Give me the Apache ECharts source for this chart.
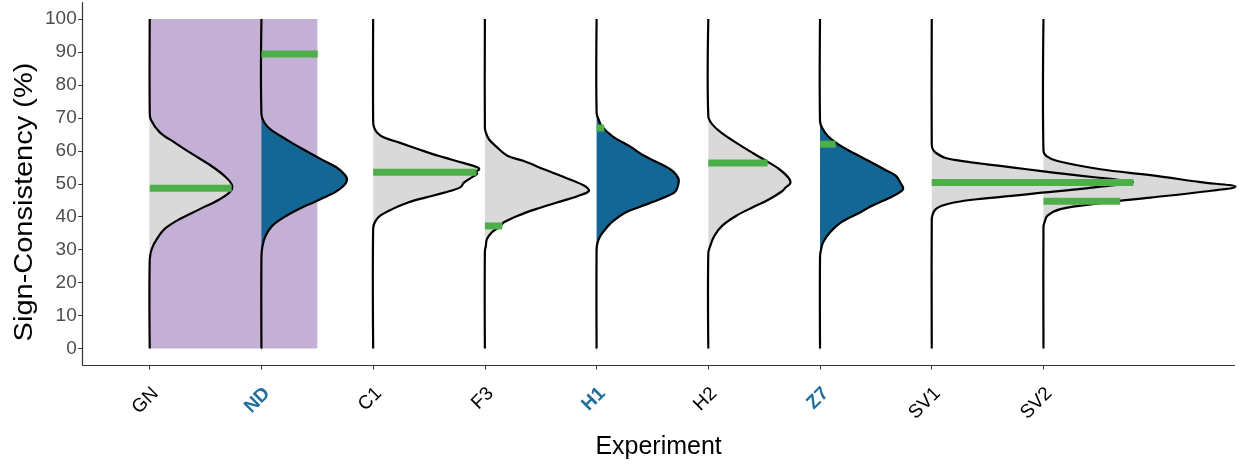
<!DOCTYPE html>
<html>
<head>
<meta charset="utf-8">
<script src="https://cdn.jsdelivr.net/npm/echarts@6/dist/echarts.min.js"></script>
<style>html,body{margin:0;padding:0;background:#fff}#chart{width:1239px;height:465px}</style>
</head>
<body>
<div id="chart"></div>
<script>
// ---------- data ----------
const categories = ['GN', 'ND', 'C1', 'F3', 'H1', 'H2', 'Z7', 'SV1', 'SV2'];
const highlighted = ['ND', 'H1', 'Z7'];
const categoryPositions = [1, 2, 3, 4, 5, 6, 7, 8, 9];
const yTicks = [0, 10, 20, 30, 40, 50, 60, 70, 80, 90, 100];

// observed sign-consistency (green bar) and its drawn length in x units
const observedValue = [48.6, 89.4, 53.5, 37.2, 66.9, 56.3, 62.0, 50.4, 44.7];
const observedWidth = [0.734, 0.504, 0.926, 0.156, 0.069, 0.531, 0.14, 1.805, 0.687];

// shaded region [xStart, xEnd, yStart, yEnd]
const shadedRegion = [1, 2.5, 0, 100];

// half-violin densities: [value, width in x units]
const densityGN = [[100,0],[72,0],[69.5,0.009],[65.6,0.090],[62.5,0.224],[59.5,0.358],[55.3,0.555],[52.3,0.671],[49.8,0.734],[47.8,0.725],[45.3,0.627],[42.3,0.448],[39.3,0.269],[36.3,0.134],[33.2,0.063],[30.2,0.018],[27,0],[0,0]];
const densityND = [[100,0],[71,0],[68.5,0.027],[66.5,0.081],[63.4,0.224],[60.4,0.376],[57.4,0.537],[55,0.671],[52.5,0.752],[51,0.765],[49.3,0.734],[47.3,0.654],[46.3,0.591],[44.3,0.466],[43.3,0.394],[40.3,0.224],[37.3,0.098],[34.1,0.036],[31,0.009],[28,0],[0,0]];
const densityC1 = [[100,0],[69,0],[67,0.009],[65.5,0.036],[64,0.098],[62.4,0.242],[60.4,0.412],[58.4,0.591],[56.4,0.797],[55,0.931],[54.3,0.949],[53.7,0.922],[53,0.931],[52,0.886],[50.4,0.815],[48.9,0.779],[47.3,0.636],[45.8,0.466],[44.3,0.313],[42.3,0.170],[40.3,0.063],[38.5,0.018],[36.5,0],[0,0]];
const densityF3 = [[100,0],[67,0],[65.5,0.009],[63.5,0.036],[61.4,0.098],[58.4,0.206],[56.9,0.349],[54.4,0.528],[51.9,0.716],[49.3,0.895],[47.8,0.931],[46.3,0.833],[44.3,0.645],[42.3,0.457],[40.3,0.295],[38.3,0.170],[37,0.134],[35.3,0.063],[33.2,0.018],[31.2,0.009],[29.5,0],[0,0]];
const densityH1 = [[100,0],[71.5,0],[69.5,0.018],[67.5,0.045],[64.4,0.143],[61.4,0.295],[58.4,0.430],[55.4,0.609],[53.6,0.689],[51.4,0.734],[49,0.725],[47.4,0.698],[45.3,0.564],[43.3,0.412],[41.3,0.260],[38.3,0.134],[36.3,0.081],[34.3,0.036],[32.2,0.009],[30,0],[0,0]];
const densityH2 = [[100,0],[70.5,0],[68,0.036],[65.5,0.116],[62.4,0.251],[59.4,0.394],[56.9,0.519],[54.4,0.636],[51.9,0.716],[50.2,0.734],[48.8,0.690],[47.8,0.663],[45.3,0.546],[42.8,0.394],[40.3,0.251],[37.3,0.125],[34.2,0.054],[31.2,0.018],[29,0],[0,0]];
const densityZ7 = [[100,0],[69,0],[67,0.018],[64.4,0.072],[62,0.161],[59.4,0.295],[56.4,0.466],[54.4,0.573],[52.4,0.680],[50.5,0.716],[48.3,0.743],[46.3,0.654],[43.3,0.466],[41.3,0.358],[38.3,0.188],[35.3,0.090],[32.2,0.027],[30,0.009],[28,0],[0,0]];
const densitySV1 = [[100,0],[62,0],[60.5,0.009],[59.4,0.036],[57.8,0.125],[56.7,0.313],[55.9,0.492],[54.9,0.734],[53.9,0.967],[52.9,1.209],[51.9,1.477],[51.1,1.683],[50.5,1.799],[50,1.746],[49.5,1.611],[48.3,1.298],[47.3,0.985],[46.3,0.716],[45.3,0.403],[44.3,0.197],[43.3,0.090],[42.3,0.036],[40.8,0.009],[39,0],[0,0]];
const densitySV2 = [[100,0],[60,0],[58.4,0.027],[56.9,0.125],[54.4,0.510],[52.6,0.958],[50.5,1.406],[49.1,1.719],[47.5,1.406],[45.8,0.958],[44.1,0.510],[42.3,0.152],[40.3,0.036],[38.3,0.009],[37,0],[0,0]];
const densities = [densityGN, densityND, densityC1, densityF3, densityH1, densityH2, densityZ7, densitySV1, densitySV2];

// ---------- chart ----------
const FONT = '"Liberation Sans", Arial, sans-serif';
const GRAY_FILL = '#d9d9d9';
const BLUE_FILL = '#146694';
const BLUE_TEXT = '#1f6e9c';
const GREEN = '#4daf4a';
const PURPLE = '#c4b0d4';
const SMOOTH = 0.35;

const chart = echarts.init(document.getElementById('chart'), null, {renderer: 'canvas'});

const violinData = categories.map((c, i) => [categoryPositions[i], i]);
const obsData = categories.map((c, i) => [categoryPositions[i], observedValue[i], observedWidth[i]]);

function violinPoints(api) {
  const pos = api.value(0);
  const idx = api.value(1);
  return densities[idx].map(d => api.coord([pos + d[1], d[0]]));
}

const option = {
  animation: false,
  backgroundColor: '#fff',
  grid: {left: 82.7, right: 4.5, top: 2.5, bottom: 98.5, containLabel: false},
  xAxis: {
    type: 'value', min: 0.4, max: 10.71,
    splitLine: {show: false},
    axisLine: {show: true, onZero: false, lineStyle: {color: '#333', width: 1.2}},
    axisTick: {show: true, length: 4.5, customValues: categoryPositions, lineStyle: {color: '#333', width: 1}},
    axisLabel: {
      customValues: categoryPositions, rotate: 45, margin: 20, padding: [16, 0, 0, 0],
      fontFamily: FONT, fontSize: 19, color: '#000',
      formatter: v => {
        const name = categories[Math.round(v) - 1];
        return highlighted.includes(name) ? '{hl|' + name + '}' : '{n|' + name + '}';
      },
      rich: {
        n: {fontFamily: FONT, fontSize: 19, color: '#000'},
        hl: {fontFamily: FONT, fontSize: 19, color: BLUE_TEXT, fontWeight: 'bold'}
      }
    },
    name: 'Experiment', nameLocation: 'middle', nameGap: 70,
    nameTextStyle: {fontFamily: FONT, fontSize: 25, color: '#000'}
  },
  yAxis: {
    type: 'value', min: -5, max: 105,
    splitLine: {show: false},
    axisLine: {show: true, onZero: false, lineStyle: {color: '#333', width: 1.2}},
    axisTick: {show: true, length: 4.5, customValues: yTicks, lineStyle: {color: '#333', width: 1}},
    axisLabel: {customValues: yTicks, fontFamily: FONT, fontSize: 19, color: '#4d4d4d', margin: 6}
  },
  graphic: [{
    type: 'text', x: 25, y: 202, rotation: Math.PI / 2, scaleY: 0.88,
    style: {text: 'Sign-Consistency (%)', fontFamily: FONT, fontSize: 29, fill: '#000',
            align: 'center', verticalAlign: 'middle'}
  }],
  series: [
    {
      type: 'custom', z: 1, silent: true,
      data: [shadedRegion],
      renderItem: (params, api) => {
        const p0 = api.coord([api.value(0), api.value(3)]);
        const p1 = api.coord([api.value(1), api.value(2)]);
        return {type: 'rect', shape: {x: p0[0], y: p0[1], width: p1[0] - p0[0], height: p1[1] - p0[1]},
                style: {fill: PURPLE}};
      }
    },
    {
      // violin fills
      type: 'custom', z: 2, silent: true,
      data: violinData,
      renderItem: (params, api) => {
        const idx = api.value(1);
        const fill = highlighted.includes(categories[idx]) ? BLUE_FILL : GRAY_FILL;
        return {type: 'polygon', shape: {points: violinPoints(api), smooth: SMOOTH}, style: {fill: fill, stroke: null}};
      }
    },
    {
      // violin outlines
      type: 'custom', z: 3, silent: true,
      data: violinData,
      renderItem: (params, api) => {
        return {type: 'polyline', shape: {points: violinPoints(api), smooth: SMOOTH},
                style: {fill: null, stroke: '#000', lineWidth: 2.2}};
      }
    },
    {
      type: 'custom', z: 4, silent: true,
      data: obsData,
      renderItem: (params, api) => {
        const pos = api.value(0), v = api.value(1), w = api.value(2);
        const a = api.coord([pos, v]);
        const b = api.coord([pos + w, v]);
        return {type: 'line', shape: {x1: a[0], y1: a[1], x2: b[0], y2: b[1]},
                style: {stroke: GREEN, lineWidth: 7, lineCap: 'butt'}};
      }
    }
  ]
};
chart.setOption(option);
</script>
</body>
</html>
